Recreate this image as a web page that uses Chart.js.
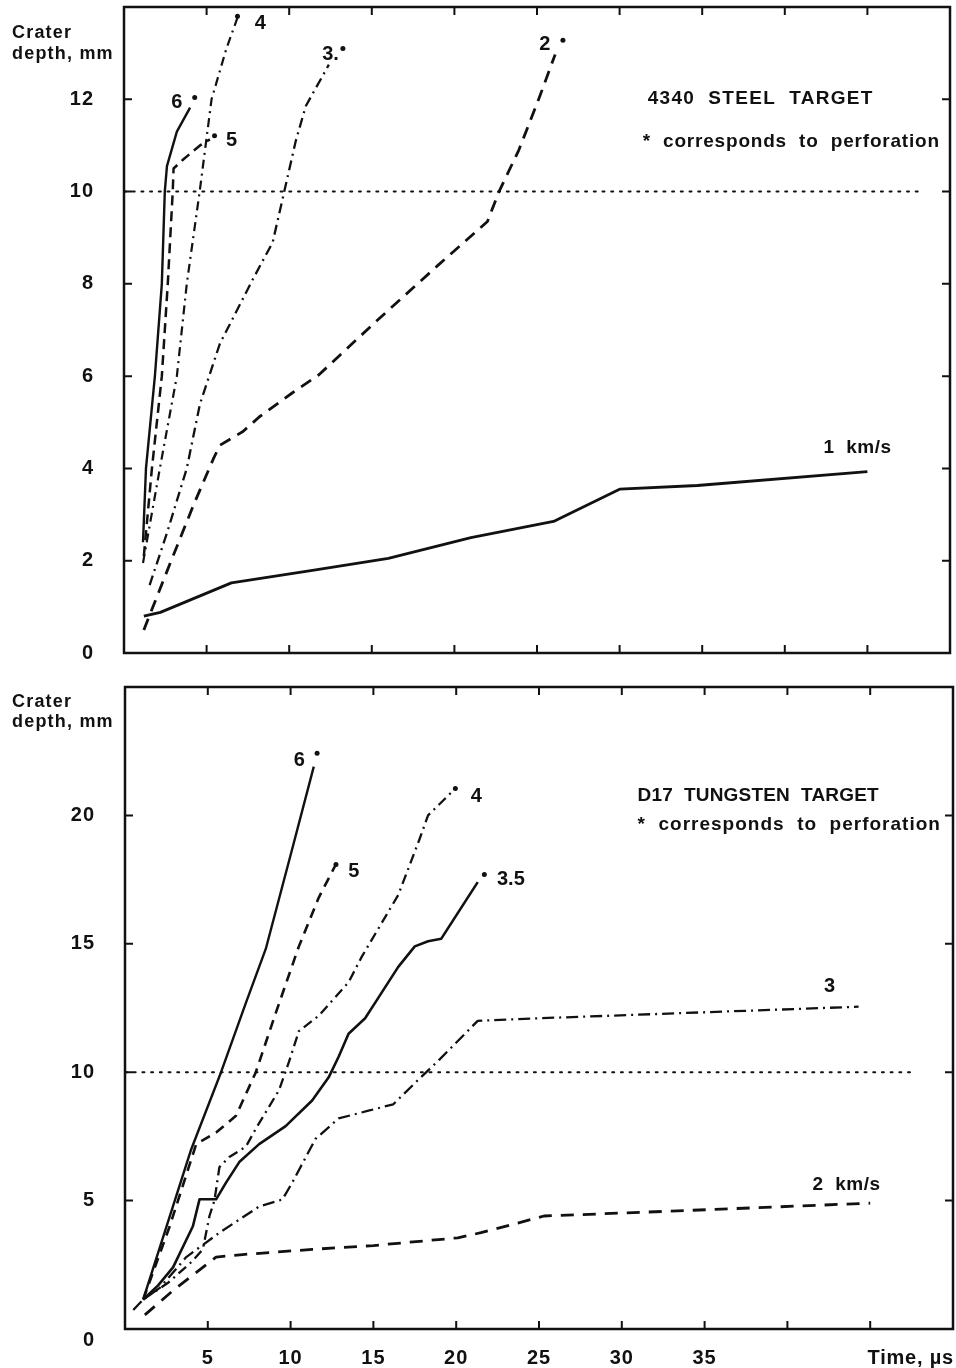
<!DOCTYPE html>
<html><head><meta charset="utf-8">
<script src="https://cdn.jsdelivr.net/npm/chart.js@4.4.1/dist/chart.umd.min.js"></script>
<style>
html,body{margin:0;padding:0;background:#fff;width:956px;height:1368px;overflow:hidden}
canvas{position:absolute;left:0}
#c1{top:0}
#c2{top:672px}
</style></head><body>
<canvas id="c1" width="956" height="672"></canvas>
<canvas id="c2" width="956" height="696"></canvas>
<script>
// ---------- DATA (time in µs, crater depth in mm) ----------
const xTickLabels = [5,10,15,20,25,30,35];
const steelYTickLabels = [0,2,4,6,8,10,12];
const tungYTickLabels = [0,5,10,15,20];
const perforationDepth = 10;

// 4340 steel target, impact velocities (km/s)
const steelV1 = [[1.2,0.8],[2.2,0.88],[6.5,1.52],[11.6,1.8],[16,2.05],[21,2.5],[26,2.85],[30,3.55],[34.7,3.63],[45,3.93]];
const steelV2 = [[1.2,0.5],[2.8,1.95],[4.2,3.2],[5.4,4.2],[5.8,4.5],[7.2,4.8],[8.2,5.12],[10.2,5.64],[11.8,6.03],[15.3,7.2],[19,8.4],[22,9.35],[22.7,10],[23.9,10.9],[25.1,12],[26.1,12.97]];
const steelV3 = [[1.55,1.47],[2.6,2.6],[3.8,4.0],[4.6,5.4],[5.8,6.7],[7.8,8.1],[9.0,8.9],[9.7,10],[10.4,11.1],[11.0,11.85],[12.4,12.75]];
const steelV4 = [[1.15,1.95],[2.17,4],[3.2,6],[3.8,8],[4.58,10],[5.3,12],[6.2,13.1],[6.87,13.77]];
const steelV5 = [[1.2,2.1],[1.69,4],[2.29,6],[2.65,8],[2.95,10],[3.0,10.5],[3.6,10.7],[4.6,11.0],[5.2,11.13]];
const steelV6 = [[1.15,2.4],[1.33,4],[1.87,6],[2.29,8],[2.47,10],[2.6,10.55],[3.2,11.3],[4.0,11.82]];

// D17 tungsten target
const tungV2 = [[1.2,0.55],[2.9,1.5],[4.7,2.4],[5.5,2.8],[7.1,2.9],[11.3,3.1],[15,3.25],[20.1,3.55],[21.5,3.75],[23.3,4.05],[25.3,4.4],[31.4,4.55],[45,4.9]];
const tungV3 = [[0.5,0.74],[1.1,1.15],[2.1,1.6],[3.7,2.8],[5.7,3.75],[8.1,4.77],[9.5,5.04],[10.1,5.7],[11.5,7.4],[12.9,8.2],[14.7,8.5],[16.2,8.75],[17.7,9.7],[19,10.5],[21.3,12.0],[25,12.1],[44.3,12.55]];
const tungV35 = [[1.1,1.15],[2.0,1.7],[2.9,2.4],[4.1,4.0],[4.5,5.05],[5.5,5.05],[6.1,5.7],[6.9,6.5],[8.1,7.2],[9.7,7.9],[11.3,8.9],[12.3,9.8],[12.9,10.6],[13.5,11.5],[14.5,12.1],[15.1,12.7],[16.5,14.1],[17.5,14.9],[18.3,15.1],[19.1,15.2],[21.3,17.4]];
const tungV4 = [[1.1,1.15],[2.6,1.8],[4.0,2.6],[4.7,3.1],[5.1,4.4],[5.4,5.0],[5.7,6.3],[6.3,6.7],[7.3,7.1],[7.9,7.8],[9.3,9.3],[9.9,10.4],[10.5,11.6],[11.7,12.2],[13.5,13.5],[14.3,14.5],[16.5,16.9],[17.8,19.1],[18.3,20.0],[19.95,21.05]];
const tungV5 = [[1.1,1.15],[2.7,4.0],[4.3,7.2],[5.5,7.65],[6.7,8.3],[7.9,10],[9.1,12.3],[10.5,14.9],[11.7,16.8],[12.7,18.05]];
const tungV6 = [[1.1,1.15],[4,7.0],[5.8,10],[7.3,12.7],[8.5,14.8],[10.1,18.7],[11.4,21.9]];

// ---------- helpers ----------
const INK = '#111';
const FONT = '"Liberation Sans", Arial, Helvetica, sans-serif';
const pts = a => a.map(p => ({x:p[0], y:p[1]}));
const SOLID = [], DASH = [12,8], DASHDOT = [10,5,2,5], DOTS = [2,6.7];
function ds(data, dash, w){
  return {data: pts(data), borderColor: INK, borderWidth: w||2.6, borderDash: dash,
          pointRadius: 0, tension: 0, fill: false, borderCapStyle:'butt', borderJoinStyle:'round'};
}
function refLine(xEnd){
  return {data:[{x:0,y:perforationDepth},{x:xEnd,y:perforationDepth}], borderColor: INK, borderWidth: 2,
          borderDash: DOTS, pointRadius:0, borderCapStyle:'round'};
}
function setLS(ctx, v){ try { ctx.letterSpacing = v; } catch(e){} }

// Frame, inward ticks, tick labels and text annotations
const framePlugin = {
  id:'frame',
  afterDraw(chart, args, opts){
    const ctx = chart.ctx, a = chart.chartArea, xs = chart.scales.x, ys = chart.scales.y;
    ctx.save();
    ctx.strokeStyle = INK; ctx.lineWidth = 2.5;
    ctx.strokeRect(a.left, a.top, a.right-a.left, a.bottom-a.top);
    ctx.lineWidth = 2;
    const tl = 8;
    for (let v = opts.xStep; v < xs.max; v += opts.xStep){
      const px = xs.getPixelForValue(v);
      ctx.beginPath(); ctx.moveTo(px, a.bottom); ctx.lineTo(px, a.bottom-tl);
      ctx.moveTo(px, a.top); ctx.lineTo(px, a.top+tl); ctx.stroke();
    }
    for (let v = opts.yStep; v < ys.max; v += opts.yStep){
      const py = ys.getPixelForValue(v);
      ctx.beginPath(); ctx.moveTo(a.left, py); ctx.lineTo(a.left+tl, py);
      ctx.moveTo(a.right, py); ctx.lineTo(a.right-tl, py); ctx.stroke();
    }
    ctx.fillStyle = INK;
    ctx.textBaseline = 'middle';
    // tick labels
    ctx.font = 'bold 20px ' + FONT; setLS(ctx, '1px');
    ctx.textAlign = 'right';
    for (const v of opts.yLabels){
      const dy = (v === 0 ? opts.zeroDy : 0);
      ctx.fillText(String(v), a.left - 30, ys.getPixelForValue(v) + dy);
    }
    if (opts.xLabels){
      ctx.textAlign = 'center';
      for (const v of opts.xLabels) ctx.fillText(String(v), xs.getPixelForValue(v), a.bottom + 29);
    }
    for (const t of opts.texts){
      ctx.font = t.font;
      ctx.textAlign = t.align || 'center';
      setLS(ctx, t.ls || '0px');
      const px = t.px !== undefined ? t.px : xs.getPixelForValue(t.x);
      const py = t.py !== undefined ? t.py : ys.getPixelForValue(t.y);
      ctx.fillText(t.s, px, py);
    }
    setLS(ctx, '0px');
    for (const d of opts.dots){
      ctx.beginPath();
      ctx.arc(xs.getPixelForValue(d[0]), ys.getPixelForValue(d[1]), 2.5, 0, Math.PI*2);
      ctx.fill();
    }
    ctx.restore();
  }
};

const numFont = 'bold 20px ' + FONT;
const titleFont = 'bold 18px ' + FONT;
const noteFont = 'bold 19px ' + FONT;

function makeChart(id, cfg){
  return new Chart(document.getElementById(id), {
    type:'line',
    data:{datasets: cfg.datasets},
    plugins:[framePlugin],
    options:{
      responsive:false, animation:false, devicePixelRatio:1,
      layout:{padding:cfg.padding, autoPadding:false},
      plugins:{legend:{display:false}, tooltip:{enabled:false},
        frame:{xStep:5, yStep:cfg.yStep, texts:cfg.texts, dots:cfg.dots,
               yLabels:cfg.yLabels, xLabels:cfg.xLabels, zeroDy:cfg.zeroDy||0}},
      scales:{
        x:{type:'linear', min:0, max:50,
           grid:{display:false, drawTicks:false}, border:{display:false},
           ticks:{display:false, stepSize:5},
           afterFit:s => { s.height = cfg.xHeight; }},
        y:{type:'linear', min:0, max:cfg.yMax,
           grid:{display:false, drawTicks:false}, border:{display:false},
           ticks:{display:false, stepSize:cfg.yStep},
           afterFit:s => { s.width = cfg.yWidth; }}
      }
    }
  });
}

// ---------- top panel: 4340 steel ----------
makeChart('c1', {
  padding:{top:7, right:6, bottom:19, left:0},
  yWidth:124, xHeight:0, xLabels:null, yMax:14, yStep:2, yLabels:steelYTickLabels,
  datasets:[
    refLine(48.4),
    ds(steelV1, SOLID, 2.8), ds(steelV2, DASH, 2.8), ds(steelV3, DASHDOT, 2.3),
    ds(steelV4, [9,5,2,5], 2.2), ds(steelV5, [10,6], 2.5), ds(steelV6, SOLID, 2.4)
  ],
  texts:[
    {s:'Crater', px:12, py:33, align:'left', font:titleFont, ls:'1.2px'},
    {s:'depth, mm', px:12, py:54, align:'left', font:titleFont, ls:'1.2px'},
    {s:'6', x:3.19, y:11.93, font:numFont},
    {s:'5', x:6.51, y:11.11, font:numFont},
    {s:'4', x:8.25, y:13.64, font:numFont},
    {s:'3.', x:12.5, y:12.97, font:numFont},
    {s:'2', x:25.48, y:13.19, font:numFont},
    {s:'4340  STEEL  TARGET', x:31.7, y:12.02, align:'left', font:noteFont, ls:'1.3px'},
    {s:'*  corresponds  to  perforation', x:31.4, y:11.08, align:'left', font:noteFont, ls:'0.8px'},
    {s:'1  km/s', x:42.35, y:4.45, align:'left', font:noteFont, ls:'0.5px'}
  ],
  dots:[[4.28,12.04],[5.48,11.21],[6.87,13.80],[13.25,13.1],[26.57,13.28]]
});

// ---------- bottom panel: D17 tungsten ----------
makeChart('c2', {
  padding:{top:15, right:3, bottom:0, left:0},
  yWidth:125, xHeight:39, xLabels:xTickLabels, yMax:25, yStep:5, yLabels:tungYTickLabels, zeroDy:11,
  datasets:[
    refLine(47.7),
    ds(tungV2, [13,9], 2.8), ds(tungV3, [12,5,2,5], 2.3), ds(tungV35, SOLID, 2.6),
    ds(tungV4, DASHDOT, 2.3), ds(tungV5, [10,7], 2.6), ds(tungV6, SOLID, 2.4)
  ],
  texts:[
    {s:'Crater', px:12, py:30, align:'left', font:titleFont, ls:'1.2px'},
    {s:'depth, mm', px:12, py:50, align:'left', font:titleFont, ls:'1.2px'},
    {s:'6', x:10.52, y:22.15, font:numFont},
    {s:'5', x:13.82, y:17.81, font:numFont},
    {s:'4', x:21.21, y:20.74, font:numFont},
    {s:'3.5', x:23.3, y:17.5, font:numFont},
    {s:'3', x:42.55, y:13.32, font:numFont},
    {s:'2  km/s', x:43.57, y:5.63, font:noteFont, ls:'0.5px'},
    {s:'D17  TUNGSTEN  TARGET', x:30.95, y:20.78, align:'left', font:noteFont, ls:'0.2px'},
    {s:'*  corresponds  to  perforation', x:30.95, y:19.65, align:'left', font:noteFont, ls:'1px'},
    {s:'Time, µs', px:954, py:686, align:'right', font:'bold 20px ' + FONT, ls:'0.8px'}
  ],
  dots:[[11.6,22.42],[12.74,18.09],[19.95,21.05],[21.7,17.7]]
});
</script>
</body></html>
